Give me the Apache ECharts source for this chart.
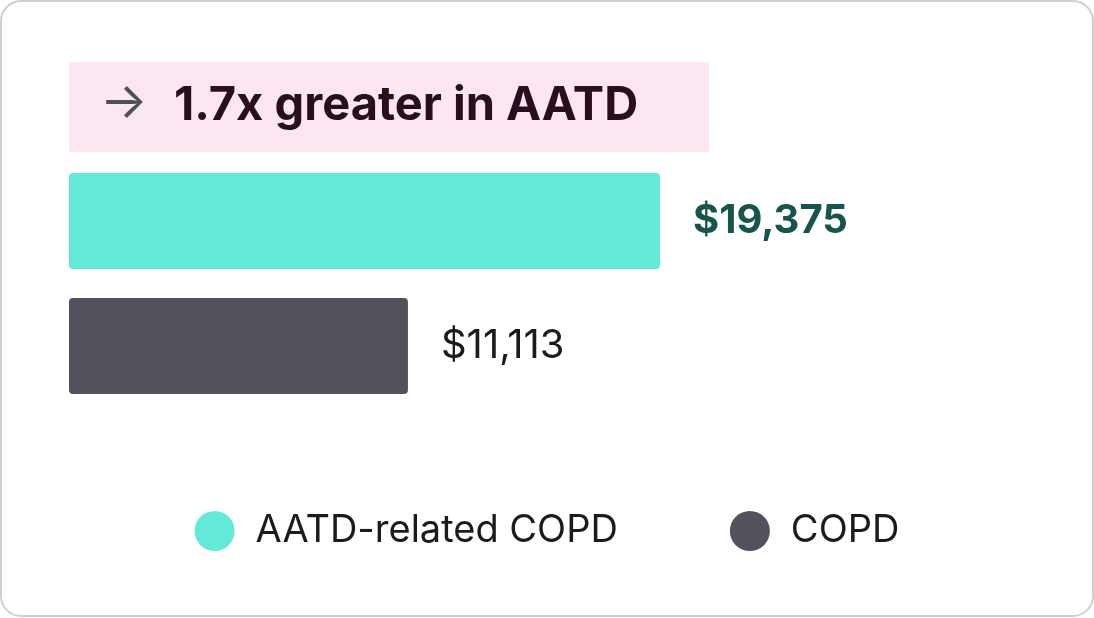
<!DOCTYPE html>
<html>
<head>
<meta charset="utf-8">
<script src="https://cdn.jsdelivr.net/npm/echarts@6/dist/echarts.min.js"></script>
<style>
  html, body { margin: 0; padding: 0; background: #fff; }
  #chart { width: 1094px; height: 618px; }
</style>
</head>
<body>
<div id="chart"></div>
<script>
var categories = ['AATD-related COPD', 'COPD'];
var values = [19375, 11113];
var colors = ['#62e9d7', '#52525c'];
var labelColors = ['#17544b', '#1b1b1f'];
var headline = '1.7x greater in AATD';

var chart = echarts.init(document.getElementById('chart'));

// one series per group so each gets a legend entry
var series = categories.map(function (name, i) {
  var data = categories.map(function (c, j) { return j === i ? values[i] : null; });
  return {
    name: name,
    type: 'bar',
    data: data,
    barWidth: 96,
    barGap: '-100%',
    itemStyle: { color: colors[i], borderRadius: 4 },
    label: {
      show: true,
      position: 'right',
      distance: 33,
      fontSize: 40,
      fontWeight: i === 0 ? 'bold' : 'normal',
      fontFamily: 'Inter',
      color: labelColors[i],
      formatter: function (p) { return '$' + p.value.toLocaleString('en-US'); }
    }
  };
});

var option = {
  animation: false,
  graphic: [
    {
      type: 'rect', z: -10,
      shape: { x: 1, y: 1, width: 1092, height: 615, r: 20 },
      style: { fill: '#fff', stroke: '#cfcfcf', lineWidth: 2 }
    },
    {
      type: 'rect',
      shape: { x: 69, y: 62, width: 640, height: 90 },
      style: { fill: '#fce6f1' }
    },
    {
      type: 'text', left: 100, top: 78,
      style: { text: '→', fontSize: 50, fontFamily: 'Inter', fill: '#505058' }
    },
    {
      type: 'text', left: 174, top: 82,
      style: { text: headline, fontSize: 47, fontWeight: 'bold', fontFamily: 'Inter', fill: '#2a0d1e' }
    }
  ],
  legend: {
    data: categories,
    left: 'center',
    top: 506,
    icon: 'circle',
    itemWidth: 40,
    itemHeight: 40,
    itemGap: 112,
    textStyle: { fontSize: 38, fontFamily: 'Inter', color: '#1b1b1f', padding: [0, 0, 0, 16] }
  },
  grid: { left: 69, top: 158.5, width: 915, height: 250 },
  xAxis: { type: 'value', min: 0, max: 30000, show: false },
  yAxis: {
    type: 'category', data: categories, inverse: true, show: false
  },
  series: series
};
chart.setOption(option);
</script>
</body>
</html>
